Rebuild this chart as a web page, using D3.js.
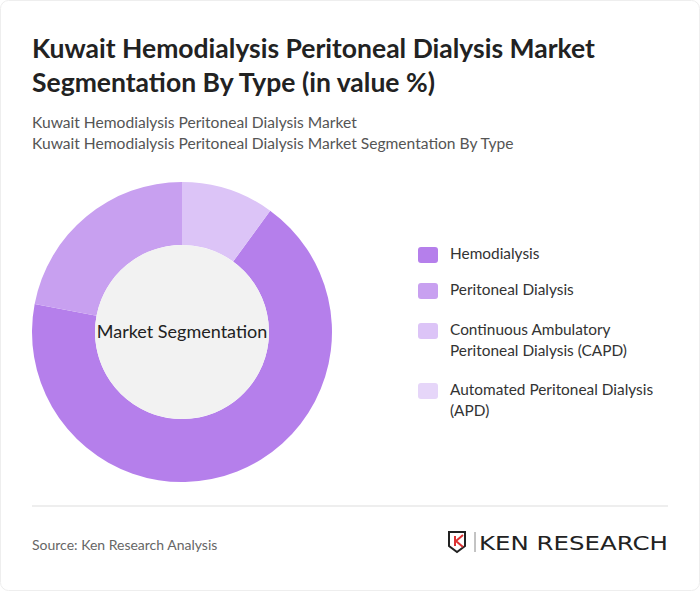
<!DOCTYPE html>
<html><head><meta charset="utf-8">
<script src="https://cdn.jsdelivr.net/npm/d3@7"></script>
<style>body{margin:0;background:#fff;font-family:Lato,sans-serif}</style></head>
<body><svg id="c" width="700" height="591"></svg>
<script>
const categories=["Hemodialysis","Peritoneal Dialysis","Continuous Ambulatory Peritoneal Dialysis (CAPD)","Automated Peritoneal Dialysis (APD)"];
const legendLines=[["Hemodialysis"],["Peritoneal Dialysis"],["Continuous Ambulatory","Peritoneal Dialysis (CAPD)"],["Automated Peritoneal Dialysis","(APD)"]];
const values=[68,22,10,0];
const colors=["#b57feb","#c8a0f0","#dcc4f7","#e6d6f9"];
const svg=d3.select("#c");
svg.append("rect").attr("x",0.5).attr("y",0.5).attr("width",699).attr("height",590).attr("rx",8).attr("fill","#fff").attr("stroke","#eee");
const t=svg.append("text").attr("font-size",26.5).attr("font-weight",700).attr("fill","#222");
t.append("tspan").attr("x",32).attr("y",58).text("Kuwait Hemodialysis Peritoneal Dialysis Market");
t.append("tspan").attr("x",32).attr("y",92).text("Segmentation By Type (in value %)");
svg.append("text").attr("x",32).attr("y",128).attr("font-size",15.6).attr("fill","#555").text("Kuwait Hemodialysis Peritoneal Dialysis Market");
svg.append("text").attr("x",32).attr("y",149).attr("font-size",15.6).attr("fill","#555").text("Kuwait Hemodialysis Peritoneal Dialysis Market Segmentation By Type");
const total=d3.sum(values);
const off=values[2]/total*2*Math.PI;
const pie=d3.pie().sort(null).startAngle(off).endAngle(off+2*Math.PI);
const arc=d3.arc().innerRadius(87).outerRadius(150);
const g=svg.append("g").attr("transform","translate(182,332)");
g.selectAll("path").data(pie(values)).join("path").attr("d",arc).attr("fill",(d,i)=>colors[i]);
g.append("circle").attr("r",87).attr("fill","#f2f2f2");
g.append("text").attr("text-anchor","middle").attr("dy","0.35em").attr("font-size",18).attr("fill","#222").text("Market Segmentation");
const ly=[254,290,330,390];
const lg=svg.append("g");
categories.forEach((c,i)=>{
  lg.append("rect").attr("x",418).attr("y",ly[i]-7).attr("width",20).attr("height",16).attr("rx",3).attr("fill",colors[i]);
  legendLines[i].forEach((l,j)=>lg.append("text").attr("x",450).attr("y",ly[i]+5+j*21).attr("font-size",15.4).attr("fill","#333").text(l));
});
svg.append("line").attr("x1",32).attr("x2",668).attr("y1",506).attr("y2",506).attr("stroke","#ddd");
svg.append("text").attr("x",32).attr("y",550).attr("font-size",14).attr("fill","#666").text("Source: Ken Research Analysis");
const lo=svg.append("g");
lo.append("path").attr("d","M449,532 h16 v14 l-8,6 l-8,-6 z").attr("fill","none").attr("stroke","#222").attr("stroke-width",2);
lo.append("path").attr("d","M455,536 v10 M463,535 l-7,6 l7,6").attr("stroke","#d33").attr("stroke-width",2).attr("fill","none");
lo.append("line").attr("x1",475).attr("x2",475).attr("y1",532).attr("y2",552).attr("stroke","#888");
lo.append("text").attr("x",479).attr("y",550).attr("font-size",19).attr("font-family","'DejaVu Sans',sans-serif").attr("fill","#222").attr("textLength",189).attr("lengthAdjust","spacingAndGlyphs").text("KEN RESEARCH");
</script></body></html>
